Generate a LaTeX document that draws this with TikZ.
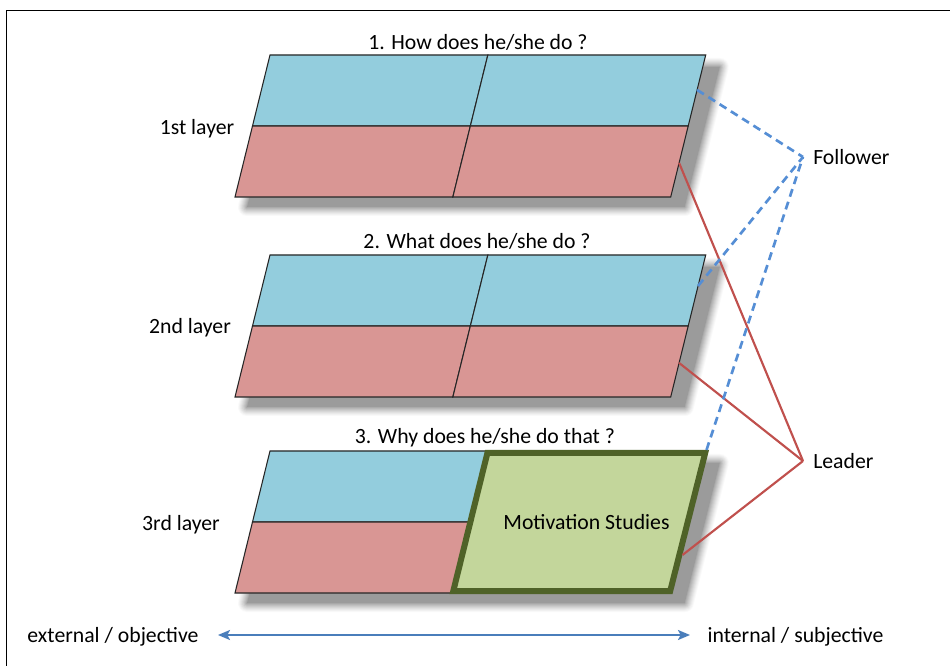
\documentclass[tikz,border=0pt]{standalone}
\usepackage{fontspec}
\setmainfont{Carlito}
\usetikzlibrary{calc,arrows.meta}
\definecolor{cellblue}{HTML}{93CDDD}
\definecolor{cellred}{HTML}{D99694}
\definecolor{motivfill}{HTML}{C3D69B}
\definecolor{motivedge}{HTML}{4F6228}
\definecolor{followblue}{HTML}{558ED5}
\definecolor{leadred}{HTML}{C0504D}
\definecolor{axisblue}{HTML}{4A7EBB}
\definecolor{shadowgray}{HTML}{9B9B9B}
\tikzset{
  cell/.style={draw=black!85, line width=0.8pt, line join=miter},
  lbl/.style={font=\fontsize{16.3}{19}\selectfont, inner sep=0pt, anchor=base},
  followline/.style={followblue, line width=2pt, dash pattern=on 6pt off 4pt},
  leadline/.style={leadred, line width=1.6pt},
  motiv/.style={fill=motivfill, draw=motivedge, line width=4.5pt, line join=miter},
  axis/.style={axisblue, line width=1.5pt,
    {Stealth[length=9pt,width=7.5pt,inset=2pt]}-{Stealth[length=9pt,width=7.5pt,inset=2pt]}},
}
\begin{document}
\begin{tikzpicture}[x=0.75pt, y=-0.75pt]
\useasboundingbox (0,0) rectangle (950,666);
\fill[white] (0,0) rectangle (950,666);
% page frame
\draw[black, line width=1.1pt] (6.7,700) -- (6.7,10.7) -- (1000,10.7);

% the three layers: corners and shadows
\foreach \n/\t in {a/55, b/255, c/451}{
  \coordinate (\n-tl) at (270,\t);
  \coordinate (\n-tr) at (705.7,\t);
  \coordinate (\n-bl) at (235,\t+142);
  \coordinate (\n-br) at (670.7,\t+142);
  \coordinate (\n-tm) at ($(\n-tl)!.5!(\n-tr)$);
  \coordinate (\n-bm) at ($(\n-bl)!.5!(\n-br)$);
  \coordinate (\n-ml) at ($(\n-tl)!.5!(\n-bl)$);
  \coordinate (\n-mr) at ($(\n-tr)!.5!(\n-br)$);
  \coordinate (\n-c) at ($(\n-tm)!.5!(\n-bm)$);
  % soft drop shadow
  \foreach \w/\c in {13.5/6, 12/13, 10.5/21, 9/30, 7.5/40, 6/50, 4.5/61, 3/72, 1.5/84}
    \draw[shadowgray!\c!white, line width=\w pt, line join=round]
      (284,\t+12) -- (719.7,\t+12) -- (684.7,\t+152) -- (247,\t+152) -- cycle;
  \fill[shadowgray] (284,\t+12) -- (719.7,\t+12) -- (684.7,\t+152) -- (247,\t+152) -- cycle;
}

% layer cells
\foreach \n in {a,b}{
  \filldraw[cell, fill=cellblue] (\n-tl) -- (\n-tm) -- (\n-c) -- (\n-ml) -- cycle;
  \filldraw[cell, fill=cellblue] (\n-tm) -- (\n-tr) -- (\n-mr) -- (\n-c) -- cycle;
  \filldraw[cell, fill=cellred] (\n-ml) -- (\n-c) -- (\n-bm) -- (\n-bl) -- cycle;
  \filldraw[cell, fill=cellred] (\n-c) -- (\n-mr) -- (\n-br) -- (\n-bm) -- cycle;
}
\filldraw[cell, fill=cellblue] (c-tl) -- (c-tm) -- (c-c) -- (c-ml) -- cycle;
\filldraw[cell, fill=cellred] (c-ml) -- (c-c) -- (c-bm) -- (c-bl) -- cycle;
\filldraw[motiv] (487.4,453) -- (705.2,453) -- (670.2,591) -- (453.3,591) -- cycle;
\node[lbl] (motivation) at (586.5,529) {Motivation Studies};

% titles and layer names
\node[lbl] (title1) at (478,50) {1. How does he/she do ?};
\node[lbl] (title2) at (477,249) {2. What does he/she do ?};
\node[lbl] (title3) at (485,444) {3. Why does he/she do that ?};
\node[lbl] (layer1) at (197,135) {1st layer};
\node[lbl] (layer2) at (190,334) {2nd layer};
\node[lbl] (layer3) at (181,530) {3rd layer};

% roles
\node[lbl, anchor=west, inner xsep=7.5pt] (follower) at (803,157) {Follower};
\node[lbl, anchor=west, inner xsep=7.5pt] (leader) at (803,461) {Leader};

% attachment points on the layer edges
\coordinate (f1) at ($(a-tr)!0.246!(a-br)$);
\coordinate (f2) at ($(b-tr)!0.218!(b-br)$);
\coordinate (f3) at (706.5,450);
\coordinate (l1) at ($(a-tr)!0.76!(a-br)$);
\coordinate (l2) at ($(b-tr)!0.76!(b-br)$);
\coordinate (l3) at (682.5,555);

\draw[leadline] (l1) -- (leader.west);
\draw[leadline] (l2) -- (leader.west);
\draw[leadline] (l3) -- (leader.west);
\draw[followline] (f1) -- (follower.west);
\draw[followline] (f2) -- (follower.west);
\draw[followline] (f3) -- (follower.west);

% external / internal axis
\node[lbl] (extern) at (113,642) {external / objective};
\node[lbl] (intern) at (795.5,642) {internal / subjective};
\coordinate (axl) at (218,635);
\coordinate (axr) at (690,635);
\draw[axis] (axl) -- (axr);
\end{tikzpicture}
\end{document}
